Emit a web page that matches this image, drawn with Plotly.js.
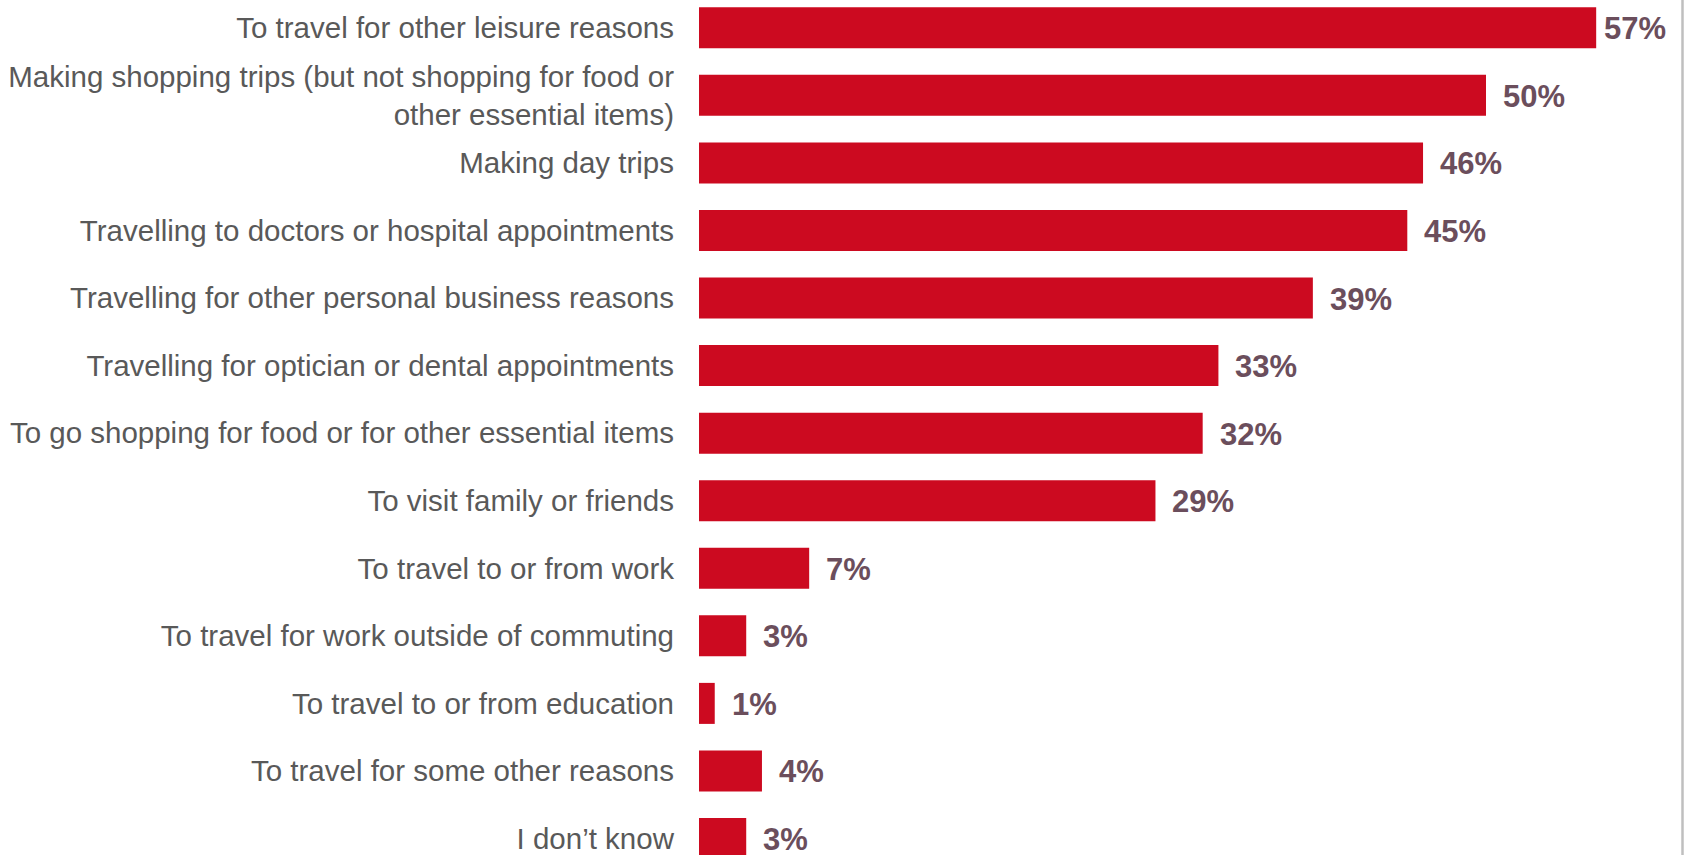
<!DOCTYPE html>
<html>
<head>
<meta charset="utf-8">
<script src="https://cdn.plot.ly/plotly-3.0.1.min.js"></script>
<style>
  html, body { margin: 0; padding: 0; background: #ffffff; }
  #chart { width: 1686px; height: 855px; }
</style>
</head>
<body>
<div id="chart"></div>
<script>
const categories = [
  "To travel for other leisure reasons",
  "Making shopping trips (but not shopping for food or<br>other essential items)",
  "Making day trips",
  "Travelling to doctors or hospital appointments",
  "Travelling for other personal business reasons",
  "Travelling for optician or dental appointments",
  "To go shopping for food or for other essential items",
  "To visit family or friends",
  "To travel to or from work",
  "To travel for work outside of commuting",
  "To travel to or from education",
  "To travel for some other reasons",
  "I don\u2019t know"
];
const values = [57, 50, 46, 45, 39, 33, 32, 29, 7, 3, 1, 4, 3];
const valueLabels = values.map(v => v + "%");

const W = 1686, H = 855, L = 699;
const pxPerUnit = 15.74;
const xMax = (W - L) / pxPerUnit;
const maxV = Math.max(...values);

const trace = {
  type: "bar",
  orientation: "h",
  x: values,
  y: categories,
  marker: { color: "#cc0a20", line: { width: 0 } },
  hoverinfo: "none"
};

const annotations = values.map((v, i) => ({
  x: v,
  y: categories[i],
  xref: "x",
  yref: "y",
  text: "<b>" + valueLabels[i] + "</b>",
  showarrow: false,
  xanchor: "left",
  yanchor: "middle",
  xshift: v === maxV ? 6 : 15,
  yshift: -1,
  font: { family: "Liberation Sans, Arial, sans-serif", size: 31, color: "#6b4e5c" }
}));

const borderX = (1682.5 - L) / (W - L);

const layout = {
  width: W,
  height: H,
  margin: { l: L, r: 0, t: 0, b: 0, pad: 0 },
  paper_bgcolor: "#ffffff",
  plot_bgcolor: "#ffffff",
  showlegend: false,
  bargap: 0.393,
  xaxis: {
    range: [0, xMax],
    showgrid: false,
    zeroline: false,
    showline: false,
    showticklabels: false,
    ticks: "",
    fixedrange: true
  },
  yaxis: {
    type: "category",
    range: [12.244, -0.4115],
    showgrid: false,
    zeroline: false,
    showline: false,
    ticks: "",
    ticklabelstandoff: 24,
    tickfont: { family: "Liberation Sans, Arial, sans-serif", size: 29.5, color: "#595959" },
    automargin: false,
    fixedrange: true
  },
  annotations: annotations,
  shapes: [{
    type: "line",
    xref: "paper", yref: "paper",
    x0: borderX, x1: borderX, y0: 0, y1: 1,
    line: { color: "#bfbfbf", width: 2.5 }
  }]
};

Plotly.newPlot("chart", [trace], layout, { displayModeBar: false, staticPlot: true });
</script>
</body>
</html>
